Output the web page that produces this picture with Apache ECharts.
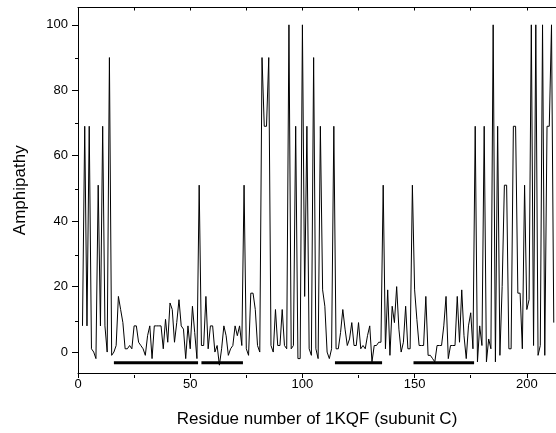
<!DOCTYPE html>
<html><head><meta charset="utf-8">
<script src="https://cdn.jsdelivr.net/npm/echarts@6/dist/echarts.min.js"></script>
<style>html,body{margin:0;padding:0;background:#fff}#c{width:556px;height:433px}</style>
</head><body><div id="c"></div>
<script>
// ---- data ----
const residueStart = 2;
const amphipathy = [
  8, 69, 8, 69, 1, 0, -2, 51, 8, 69, 8, 0, 90, -1, 0, 2, 17, 13, 9, 1,   // 2-21
  1, 2, 1, 8, 8, 3, 2, 1, -1, 5, 8, -2, 8, 8, 8, 8, 1, 10, 3, 15,        // 22-41
  13, 3, 9, 16, 8, 7, -2, 8, 1, 14, 6, -2, 51, 2, 2, 17, 1, 8, 8, 0,     // 42-61
  2, -4, 1, 8, 5, -1, 1, 2, 8, 5, 8, 2, 51, 1, -1, 18, 18, 13, 2, 0,     // 62-81
  90, 69, 69, 90, 2, 0, 13, 2, 2, 13, 2, 1, 100, 1, 2, 69, -2, -2, 100, 17, // 82-101
  69, 1, -1, 90, 1, -2, 69, 19, 14, 0, -2, 1, 69, 1, 1, 6, 13, 7, 2, 4,  // 102-121
  9, 2, 2, 9, 1, 2, 1, 5, 8, -3, 2, 2, 3, 3, 51, 1, 19, -1, 14, 9,       // 122-141
  20, 7, 0, 3, 14, 1, 1, 51, 19, 10, 2, 2, 2, 17, -1, -1, -2, -3, 2, 2,  // 142-161
  2, 8, 17, -2, 2, 2, 2, 17, 3, 19, 5, -2, 8, 12, 1, 69, -3, 8, 2, 69,   // 162-181
  -3, 4, 1, 100, -3, 69, -1, 20, 51, 51, 1, 1, 69, 69, 18, 18, 1, 51, 13, 16, // 182-201
  100, 2, 100, -1, 2, 100, -1, 69, 69, 100, 9                            // 202-212
];
const xMajorTicks = [0, 50, 100, 150, 200];
const xMinorTicks = [25, 75, 125, 175];
const xTopTicks = [0, 25, 50, 75, 100, 125, 150, 175, 200];
const yMajorTicks = [0, 20, 40, 60, 80, 100];
const yMinorTicks = [10, 30, 50, 70, 90];
const segStart = [16, 55, 114.5, 149.5];
const segEnd = [53.5, 73.5, 135.5, 176.5];
const segLevel = -3.3;
const xTitle = 'Residue number of 1KQF (subunit C)';
const yTitle = 'Amphipathy';

// ---- chart ----
const XMIN = 0, XMAX = 213, YMIN = -6.4, YMAX = 105.3;
const FONT = '"Liberation Sans", Arial, sans-serif';
const black = '#000';
const gridRect = {left: 78, right: 0, top: 7.5, bottom: 58, containLabel: false};

const lineData = amphipathy.map((v, i) => [i + residueStart, v]);
const segSeries = segStart.map((s, i) => ({
  type: 'line', xAxisIndex: 0, yAxisIndex: 0, symbol: 'none', silent: true,
  data: [[s, segLevel], [segEnd[i], segLevel]],
  lineStyle: {color: black, width: 3}, animation: false
}));

const chart = echarts.init(document.getElementById('c'), null, {renderer: 'canvas'});
chart.setOption({
  animation: false,
  backgroundColor: '#fff',
  grid: [Object.assign({}, gridRect), Object.assign({}, gridRect)],
  xAxis: [
    {type: 'value', gridIndex: 0, position: 'bottom', min: XMIN, max: XMAX,
     axisLine: {show: true, onZero: false, lineStyle: {color: black, width: 1}},
     axisTick: {show: true, customValues: xMajorTicks, length: 5, lineStyle: {color: black, width: 1}},
     axisLabel: {show: true, customValues: xMajorTicks, color: black, fontSize: 13, fontFamily: FONT, margin: 5},
     splitLine: {show: false},
     name: xTitle, nameLocation: 'middle', nameGap: 38,
     nameTextStyle: {color: black, fontSize: 17, fontFamily: FONT}},
    {type: 'value', gridIndex: 0, position: 'top', min: XMIN, max: XMAX,
     axisLine: {show: true, onZero: false, lineStyle: {color: black, width: 1}},
     axisTick: {show: true, inside: true, customValues: xTopTicks, length: 3, lineStyle: {color: black, width: 1}},
     axisLabel: {show: false}, splitLine: {show: false}},
    {type: 'value', gridIndex: 1, position: 'bottom', min: XMIN, max: XMAX,
     axisLine: {show: false, onZero: false},
     axisTick: {show: true, customValues: xMinorTicks, length: 3, lineStyle: {color: black, width: 1}},
     axisLabel: {show: false}, splitLine: {show: false}}
  ],
  yAxis: [
    {type: 'value', gridIndex: 0, position: 'left', min: YMIN, max: YMAX,
     axisLine: {show: true, onZero: false, lineStyle: {color: black, width: 1}},
     axisTick: {show: true, customValues: yMajorTicks, length: 6, lineStyle: {color: black, width: 1}},
     axisLabel: {show: true, customValues: yMajorTicks, color: black, fontSize: 13, fontFamily: FONT, margin: 10},
     splitLine: {show: false},
     name: yTitle, nameLocation: 'middle', nameGap: 49, nameRotate: 90,
     nameTextStyle: {color: black, fontSize: 17, fontFamily: FONT}},
    {type: 'value', gridIndex: 1, position: 'left', min: YMIN, max: YMAX,
     axisLine: {show: false, onZero: false},
     axisTick: {show: true, customValues: yMinorTicks, length: 3, lineStyle: {color: black, width: 1}},
     axisLabel: {show: false}, splitLine: {show: false}}
  ],
  series: [
    {type: 'line', xAxisIndex: 0, yAxisIndex: 0, symbol: 'none', silent: true,
     data: lineData, lineStyle: {color: black, width: 1}, animation: false},
    {type: 'line', xAxisIndex: 2, yAxisIndex: 1, symbol: 'none', data: [], silent: true}
  ].concat(segSeries)
});
</script></body></html>
